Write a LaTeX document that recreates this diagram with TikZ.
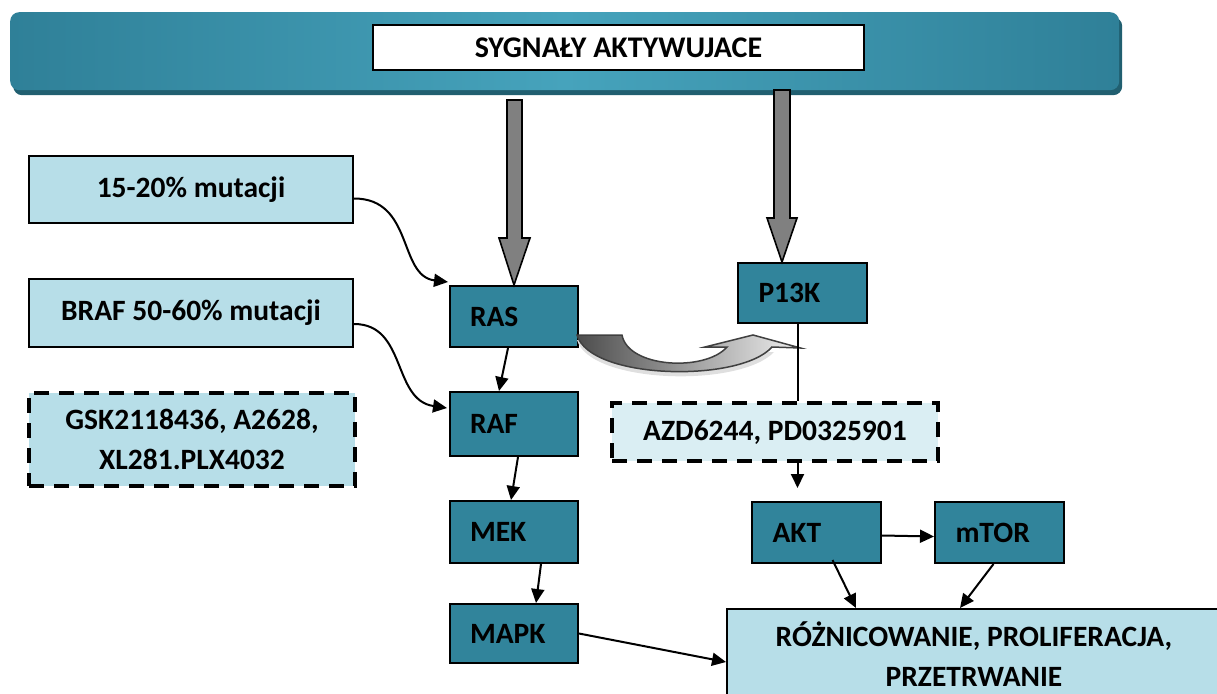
\documentclass[tikz,border=0pt]{standalone}
\usepackage{fontspec}
\setmainfont{Carlito}
\usetikzlibrary{arrows.meta,calc}
\definecolor{tealc}{HTML}{31849B}
\definecolor{lightc}{HTML}{B7DEE8}
\definecolor{paler}{HTML}{DAEEF3}
\definecolor{banedge}{HTML}{2F8098}
\definecolor{banmid}{HTML}{46A3BC}
\definecolor{banshadow}{HTML}{215F70}
\definecolor{bigarrow}{HTML}{808080}
\begin{document}
\begin{tikzpicture}[x=1pt,y=-1pt,
  txt/.style={font=\fontsize{29.5}{40}\selectfont\bfseries},
  tealbox/.style={draw=black, line width=2pt, fill=tealc, minimum width=128pt,
    text width=88pt, inner xsep=20pt, inner ysep=0pt, align=left, anchor=north west, txt},
  lightbox/.style={draw=black, line width=2pt, fill=lightc, inner sep=0pt,
    align=center, anchor=north west, txt},
  dashbox/.style={lightbox, line width=4pt, dash pattern=on 15pt off 10pt},
  conn/.style={line width=2pt, -{Triangle[length=14pt,width=13pt]}},
  grayarrow/.style={fill=bigarrow, draw=black, line width=1.6pt, line join=miter},
]
\useasboundingbox (0,0) rectangle (1217,693);

% banner
\node[fill=banshadow, rounded corners=9pt, minimum width=1109pt, minimum height=78pt,
  anchor=north west, inner sep=0pt] (banshad) at (13,17) {};
\node[left color=banedge, right color=banedge, middle color=banmid, rounded corners=9pt,
  minimum width=1109pt, minimum height=78pt, anchor=north west, inner sep=0pt] (banner) at (10,12) {};
\node[fill=gray!60, minimum width=491pt, minimum height=45pt, anchor=north west, inner sep=0pt] (sigshad) at (374,26) {};
\node[draw=black, line width=2pt, fill=white, minimum width=491pt, minimum height=45pt,
  anchor=north west, inner sep=0pt, font=\fontsize{30}{34}\selectfont\bfseries] (sig) at (372,24) {\raisebox{-3pt}{SYGNAŁY AKTYWUJACE}};

% left boxes
\node[lightbox, minimum width=324pt, minimum height=67pt] (n1) at (28,155) {15-20\% mutacji};
\node[lightbox, minimum width=324pt, minimum height=68pt] (n2) at (28,278) {BRAF 50-60\% mutacji};
\node[dashbox, minimum width=326pt, minimum height=93pt] (gsk) at (27,391) {GSK2118436, A2628,\\XL281.PLX4032};

% teal boxes
\node[tealbox, minimum height=61pt] (ras) at (449,285) {RAS};
\node[tealbox, minimum height=64pt] (raf) at (449,391) {RAF};
\node[tealbox, minimum height=62pt] (mek) at (449,500) {MEK};
\node[tealbox, minimum height=59pt] (mapk) at (449,603) {MAPK};
\node[tealbox, minimum height=60pt, minimum width=129pt] (p13k) at (737,262) {P13K};
\node[tealbox, minimum height=61pt, minimum width=129pt] (akt) at (751,501) {AKT};
\node[tealbox, minimum height=61pt, minimum width=129pt] (mtor) at (934,501) {mTOR};

% AZD and result
\node[dashbox, fill=paler, minimum width=326pt, minimum height=58pt] (azd) at (610,401) {AZD6244, PD0325901};
\node[lightbox, minimum width=494pt, minimum height=90pt] (res) at (726,608) {RÓŻNICOWANIE, PROLIFERACJA,\\PRZETRWANIE};

% big gray arrows from banner
\coordinate (ga) at (514,100);
\coordinate (gb) at (782,90);
\draw[grayarrow] (ga) ++(-7,0) -- ++(15,0) -- (522,238) -- (530,238) -- (ras.north -| ga) -- (499,238) -- (507,238) -- cycle;
\draw[grayarrow] (gb) ++(-8,0) -- ++(16,0) -- (790,218) -- (797,218) -- (p13k.north -| gb) -- (767,218) -- (774,218) -- cycle;

% P13K vertical line position
\coordinate (pl) at ($(p13k.south)+(-5,0)$);
\coordinate (pe) at ($(pl |- akt.north)+(0,-13)$);

% curved 3D arrow RAS -> P13K
\coordinate (ca) at (577,335);
\coordinate (ctip) at ($(pl |- ca)+(3,13)$);
\fill[gray!25] ($(ca)+(0,5)$) -- ++(45,0) .. controls (632,370) and (705,372) .. (729,352) -- (774,352)
   .. controls (740,388) and (590,384) .. cycle;
\draw[left color=gray!60!black, middle color=gray!80!black, right color=gray!12, draw=gray!50!black, line width=1.5pt, line join=miter]
  (ca) -- (622,335) .. controls (628,368) and (705,372) .. (727,347) -- (705,347) -- (753,335)
  -- (ctip) -- (772,347) .. controls (740,383) and (590,380) .. cycle;

% connectors
\draw[conn] ($(n1.east)+(0,9)$) .. controls +(60,0) and (398,276) .. ($(ras.north west)+(-1,-3)$);
\draw[conn] ($(n2.east)+(0,11)$) .. controls +(53,0) and (392,400) .. ($(raf.west)+(-2,-16)$);
\draw[conn] ($(ras.south)+(-6,0)$) -- ($(raf.north)+(-15,0)$);
\draw[conn] ($(raf.south)+(4,0)$) -- ($(mek.north)+(-3,0)$);
\draw[conn] ($(mek.south)+(27,0)$) -- ($(mapk.north)+(22,0)$);
\draw[conn] (mapk.east) -- ($(res.north west)+(0,54)$);
\draw[line width=2pt] (pl) -- (pl |- azd.north);
\draw[conn] (pl |- azd.south) -- (pe);
\draw[conn] ($(akt.east)+(0,3)$) -- ($(mtor.west)+(0,4)$);
\draw[conn] ($(akt.south)+(16,-4)$) -- ($(res.north west)+(130,0)$);
\draw[conn] ($(mtor.south)+(-6,0)$) -- ($(res.north west)+(234,0)$);
\end{tikzpicture}
\end{document}
